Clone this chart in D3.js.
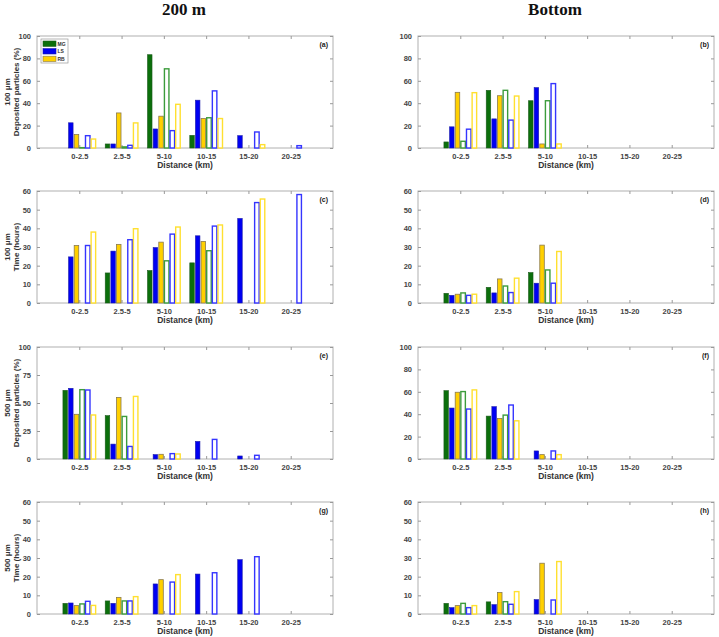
<!DOCTYPE html>
<html><head><meta charset="utf-8">
<script src="https://cdn.jsdelivr.net/npm/d3@7"></script>
<style>
body{margin:0;background:#fff;}
svg{display:block;}
.tick text{font-family:"Liberation Sans",Arial,sans-serif;font-weight:bold;fill:#444;}
</style></head>
<body>
<svg id="chart" width="719" height="637"></svg>
<script>
// ---------- data ----------
const categories = ["0-2.5","2.5-5","5-10","10-15","15-20","20-25"];
const seriesNames = ["MG","LS","RB","MG open","LS open","RB open"];
const legendNames = ["MG","LS","RB"];
const pctTicks = [0,20,40,60,80,100];
const pctTicks25 = [0,25,50,75,100];
const timeTicks = [0,10,20,30,40,50,60];

// values: one row per series (MG, LS, RB, MG open, LS open, RB open), one column per category
const panelA = [
  [0, 3.6, 83.3, 11.3, 0, 0],
  [22.5, 3.6, 17, 42.7, 11, 0],
  [12, 31.3, 28.4, 26.3, 0, 0],
  [0.3, 1, 70.7, 27, 0, 0],
  [11, 2.4, 15.5, 51, 14.3, 2.1],
  [8, 22.4, 39, 26.3, 3, 0]
];
const panelB = [
  [5.4, 51.5, 42.2, 0, 0, 0],
  [18.9, 26, 53.9, 0, 0, 0],
  [49.7, 46.7, 3.6, 0, 0, 0],
  [6, 51.5, 42.2, 0, 0, 0],
  [16.8, 24.9, 57.5, 0, 0, 0],
  [49.4, 46.4, 3.6, 0, 0, 0]
];
const panelC = [
  [0, 16.1, 17.4, 21.5, 0, 0],
  [24.7, 27.8, 29.7, 36, 45.3, 0],
  [30.8, 31.4, 32.6, 33, 0, 0],
  [0, 0, 22.6, 28, 0, 0],
  [30.8, 33.9, 36.9, 41.2, 53.8, 58.1],
  [38, 39.8, 40.7, 41.8, 55.7, 0]
];
const panelD = [
  [5.2, 8.4, 16.3, 0, 0, 0],
  [4.1, 5.4, 10.6, 0, 0, 0],
  [4.7, 12.9, 31, 0, 0, 0],
  [5.4, 9.1, 17.7, 0, 0, 0],
  [4.1, 5.6, 10.6, 0, 0, 0],
  [4.7, 13.3, 27.6, 0, 0, 0]
];
const panelE = [
  [61.3, 38.7, 0, 0, 0, 0],
  [63.1, 13.3, 3.9, 15.7, 2.7, 0],
  [39.9, 55, 4.2, 0, 0, 0],
  [61.9, 38, 0, 0, 0, 0],
  [61.6, 11.2, 4.8, 17.5, 3.3, 0],
  [39.3, 55.9, 4.5, 0, 0, 0]
];
const panelF = [
  [61, 38.3, 0, 0, 0, 0],
  [45.5, 46.7, 7.2, 0, 0, 0],
  [59.6, 36.2, 3.9, 0, 0, 0],
  [60.2, 39.2, 0, 0, 0, 0],
  [44.6, 48.2, 7.2, 0, 0, 0],
  [61.7, 34.1, 3.9, 0, 0, 0]
];
const panelG = [
  [5.7, 7, 0, 0, 0, 0],
  [5.9, 5.7, 16.1, 21.4, 29.1, 0],
  [4.5, 8.9, 18.4, 0, 0, 0],
  [5.4, 7, 0, 0, 0, 0],
  [6.8, 7, 17.1, 22.1, 30.7, 0],
  [4.6, 9.3, 21.1, 0, 0, 0]
];
const panelH = [
  [5.7, 6.5, 0, 0, 0, 0],
  [3.4, 5, 7.7, 0, 0, 0],
  [4.5, 11.5, 27.2, 0, 0, 0],
  [5.7, 6.6, 0, 0, 0, 0],
  [3.4, 5.2, 7.5, 0, 0, 0],
  [4.5, 12, 28.1, 0, 0, 0]
];

// ---------- styles ----------
const fills   = ["#0b6f0b", "#0000f2", "#ffd000", "#ffffff", "#ffffff", "#ffffff"];
const strokes = ["#1d5a1d", "#1a1aa8", "#8a7a50", "#3c9c3c", "#3535ff", "#ffe030"];
const strokeW = [0.6, 0.6, 0.8, 1.4, 1.4, 1.4];

const svg = d3.select("#chart");
const FONT = '"Liberation Sans",Arial,sans-serif';

const colX = [37, 418];
const rowY = [36, 191, 347, 502];
const W = 296, H = 112;

const panels = [
  {v: panelA, col:0, row:0, ticks:pctTicks, max:100, label:"(a)", yl:["100 μm","Deposited particles (%)"], legend:true},
  {v: panelB, col:1, row:0, ticks:pctTicks, max:100, label:"(b)"},
  {v: panelC, col:0, row:1, ticks:timeTicks, max:60, label:"(c)", yl:["100 μm","Time (hours)"]},
  {v: panelD, col:1, row:1, ticks:timeTicks, max:60, label:"(d)"},
  {v: panelE, col:0, row:2, ticks:pctTicks25, max:100, label:"(e)", yl:["500 μm","Deposited particles (%)"]},
  {v: panelF, col:1, row:2, ticks:pctTicks, max:100, label:"(f)"},
  {v: panelG, col:0, row:3, ticks:timeTicks, max:60, label:"(g)", yl:["500 μm","Time (hours)"]},
  {v: panelH, col:1, row:3, ticks:timeTicks, max:60, label:"(h)"}
];

// titles
svg.append("text").attr("x", 184).attr("y", 15).attr("text-anchor","middle")
  .attr("font-family",'"Liberation Serif","DejaVu Serif",serif').attr("font-weight","bold")
  .attr("font-size", 17).attr("fill","#111").text("200 m");
svg.append("text").attr("x", 555).attr("y", 15).attr("text-anchor","middle")
  .attr("font-family",'"Liberation Serif","DejaVu Serif",serif').attr("font-weight","bold")
  .attr("font-size", 17).attr("fill","#111").text("Bottom");

panels.forEach(p => {
  const x0 = colX[p.col], y0 = rowY[p.row];
  const g = svg.append("g").attr("transform", `translate(${x0},${y0})`);
  const xLin = d3.scaleLinear().domain([0, 7]).range([0, W]);
  const xCat = d3.scaleBand().domain(categories).range([xLin(0.5), xLin(6.5)]).paddingInner(0);
  const bw = xCat.bandwidth();
  const xSub = d3.scaleBand().domain(seriesNames).range([0.1*bw, 0.9*bw]).paddingInner(0.2).paddingOuter(0.1);
  const y = d3.scaleLinear().domain([0, p.max]).range([H, 0]);

  // box
  g.append("rect").attr("x",0).attr("y",0).attr("width",W).attr("height",H)
    .attr("fill","#fff").attr("stroke","#b0b0b0").attr("stroke-width",1);

  // axes (ticks inside)
  const ax = g.append("g").attr("transform",`translate(0,${H})`)
    .call(d3.axisBottom(xLin).tickValues([1,2,3,4,5,6]).tickFormat(d => categories[d-1]).tickSize(-3).tickPadding(6));
  ax.select(".domain").remove();
  ax.selectAll("line").attr("stroke","#999");
  ax.selectAll("text").attr("font-size",7.5).attr("font-family",FONT);
  const axT = g.append("g").call(d3.axisTop(xLin).tickValues([1,2,3,4,5,6]).tickFormat("").tickSize(-3));
  axT.select(".domain").remove(); axT.selectAll("line").attr("stroke","#999");

  const ay = g.append("g").call(d3.axisLeft(y).tickValues(p.ticks).tickSize(-3).tickPadding(6));
  ay.select(".domain").remove();
  ay.selectAll("line").attr("stroke","#999");
  ay.selectAll("text").attr("font-size",7.5).attr("font-family",FONT);
  const ayR = g.append("g").attr("transform",`translate(${W},0)`).call(d3.axisRight(y).tickValues(p.ticks).tickFormat("").tickSize(-3));
  ayR.select(".domain").remove(); ayR.selectAll("line").attr("stroke","#999");

  // bars
  seriesNames.forEach((s, si) => {
    const vals = p.v[si];
    g.append("g").selectAll("rect").data(categories.map((c, ci) => ({c, v: vals[ci]})).filter(d => d.v > 0))
      .join("rect")
      .attr("x", d => xCat(d.c) + xSub(s))
      .attr("width", xSub.bandwidth())
      .attr("y", d => y(d.v))
      .attr("height", d => y(0) - y(d.v))
      .attr("fill", fills[si])
      .attr("stroke", strokes[si])
      .attr("stroke-width", strokeW[si]);
  });

  // panel label
  g.append("text").attr("x", W-5).attr("y", 11).attr("text-anchor","end")
    .attr("font-family",FONT).attr("font-weight","bold").attr("font-size",7).attr("fill","#222").text(p.label);

  // x label
  g.append("text").attr("x", W/2).attr("y", H+20).attr("text-anchor","middle")
    .attr("font-family",FONT).attr("font-weight","bold").attr("font-size",8.5).attr("fill","#333").text("Distance (km)");

  // y label (two lines)
  if (p.yl) {
    const t = g.append("text").attr("transform",`translate(-27,${H/2}) rotate(-90)`).attr("text-anchor","middle")
      .attr("font-family",FONT).attr("font-weight","bold").attr("font-size",8).attr("fill","#333");
    t.append("tspan").attr("x",0).attr("dy",0).text(p.yl[0]);
    t.append("tspan").attr("x",0).attr("dy",9).text(p.yl[1]);
  }

  // legend
  if (p.legend) {
    const lg = g.append("g").attr("transform","translate(4,3)");
    lg.append("rect").attr("x",0).attr("y",0).attr("width",27).attr("height",24)
      .attr("fill","#fff").attr("stroke","#999").attr("stroke-width",0.7);
    legendNames.forEach((n, i) => {
      lg.append("rect").attr("x",2).attr("y",2 + i*7.6).attr("width",13).attr("height",5.4)
        .attr("fill",fills[i]).attr("stroke",strokes[i]).attr("stroke-width",0.6);
      lg.append("text").attr("x",16.5).attr("y",6.8 + i*7.6)
        .attr("font-family",FONT).attr("font-weight","bold").attr("font-size",5).attr("fill","#333").text(n);
    });
  }
});
</script>
</body></html>
